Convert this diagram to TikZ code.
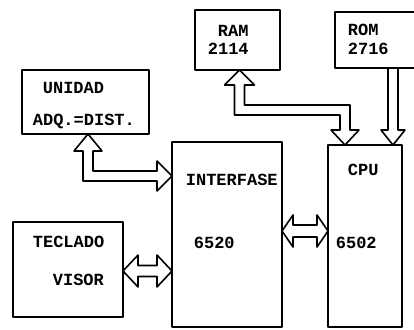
\documentclass[tikz,border=0pt]{standalone}
\usepackage{fontspec}
\setmonofont{Liberation Mono}
\usetikzlibrary{calc}

\begin{document}
\begin{tikzpicture}[x=1pt, y=-1pt, line width=1.7pt, line join=round,
    blk/.style={draw, inner sep=0pt, outer sep=0pt},
    lbl/.style={anchor=base west, inner sep=0pt, font=\ttfamily\bfseries\fontsize{17}{17}\selectfont},
    hollow/.style={draw, line width=1.6pt}]
  \useasboundingbox (0,0) rectangle (414,329);

  % bloques
  \node[blk, minimum width=127, minimum height=64]  (unidad)  at (85.5, 102)  {};
  \node[blk, minimum width=85,  minimum height=60]  (ram)     at (237.5, 40)  {};
  \node[blk, minimum width=85,  minimum height=56]  (rom)     at (377.5, 40)  {};
  \node[blk, minimum width=110, minimum height=185] (interf)  at (227, 234.5) {};
  \node[blk, minimum width=74,  minimum height=182] (cpu)     at (365, 236)   {};
  \node[blk, minimum width=110, minimum height=95]  (teclado) at (68, 269.5)  {};

  % textos
  \node[lbl] (tUnidad) at (42, 93)   {UNIDAD};
  \node[lbl] (tAdq)    at (32, 125)  {ADQ.=DIST.};
  \node[lbl] (tRam)    at (217, 37)  {RAM};
  \node[lbl] (nRam)    at (207, 55)  {2114};
  \node[lbl] (tRom)    at (347, 35)  {ROM};
  \node[lbl] (nRom)    at (347, 55)  {2716};
  \node[lbl] (tInterf) at (185, 185) {INTERFASE};
  \node[lbl] (nInterf) at (193, 248) {6520};
  \node[lbl] (tCpu)    at (347, 175) {CPU};
  \node[lbl] (nCpu)    at (335, 248) {6502};
  \node[lbl] (tTec)    at (32, 247)  {TECLADO};
  \node[lbl] (tVis)    at (52, 285)  {VISOR};

  % unidad <-> interfase (acodada)
  \coordinate (a1) at ($(unidad.south)+(2.5,0)$);
  \coordinate (a2) at (interf.west |- 0,176);
  \draw[hollow] (a1) -- ++(14,17) -- ++(-9,0) |- ($(a2)+(-15,-5)$) -- ++(0,-10)
    -- (a2) -- ++(-15,15) -- ++(0,-10) -| ($(a1)+(-5,17)$) -- ++(-9,0) -- cycle;

  % ram <-> cpu (acodada)
  \coordinate (b1) at ($(ram.south)+(2,0)$);
  \coordinate (b2) at ($(cpu.north)+(-20,0)$);
  \draw[hollow] (b1) -- ++(15,15) -- ++(-10,0) |- ($(b2)+(5,-40)$) -- ++(0,25)
    -- ++(9,0) -- (b2) -- ++(-14,-15) -- ++(9,0) |- ($(b1)+(-5,45)$)
    -- ++(0,-30) -- ++(-10,0) -- cycle;

  % rom -> cpu
  \coordinate (c2) at ($(cpu.north)+(28,0)$);
  \draw[hollow] ($(c2 |- rom.south)+(5,0)$) |- ($(c2)+(12,-15)$) -- (c2)
    -- ++(-12,-15) -| ($(c2 |- rom.south)+(-5,0)$);

  % interfase <-> cpu
  \coordinate (d1) at (interf.east |- 0,231);
  \coordinate (d2) at (cpu.west |- 0,231);
  \draw[hollow] (d1) -- ++(11,-16) -- ++(0,10) -- ($(d2)+(-11,-6)$) -- ++(0,-10)
    -- (d2) -- ++(-11,16) -- ++(0,-10) -- ($(d1)+(11,6)$) -- ++(0,10) -- cycle;

  % teclado <-> interfase
  \coordinate (e1) at (teclado.east |- 0,271);
  \coordinate (e2) at (interf.west |- 0,271);
  \draw[hollow] (e1) -- ++(15,-16) -- ++(0,10.5) -- ($(e2)+(-15,-5.5)$) -- ++(0,-10.5)
    -- (e2) -- ++(-15,16) -- ++(0,-10.5) -- ($(e1)+(15,5.5)$) -- ++(0,10.5) -- cycle;
\end{tikzpicture}
\end{document}
